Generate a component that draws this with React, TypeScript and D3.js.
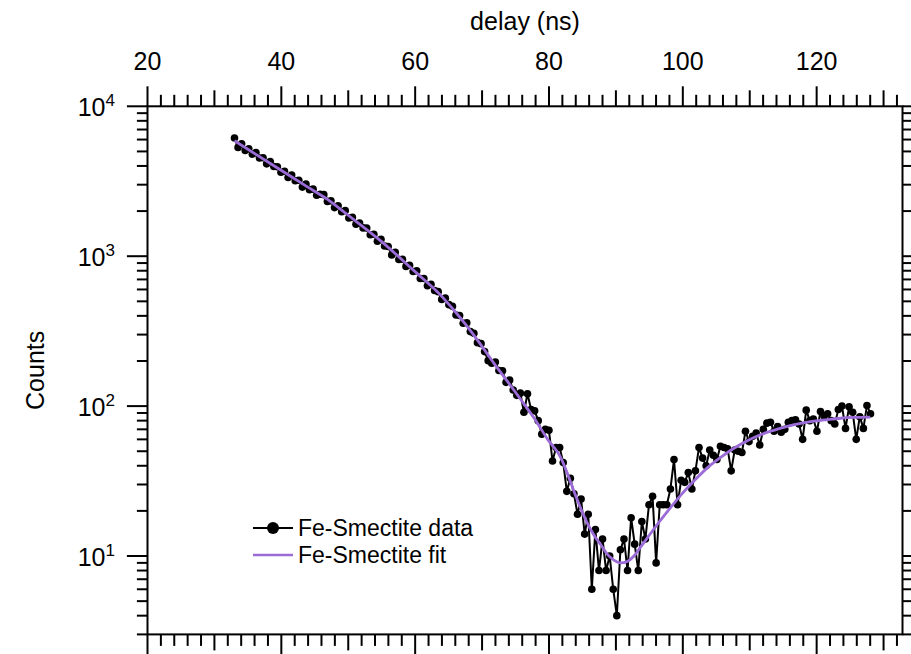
import React from 'react';
import * as d3 from 'd3';

// Time axis of the histogram: evenly spaced bins
const DELAY_START = 33.0;
const DELAY_STEP = 0.534;

// Measured counts per bin
const dataCounts = [
  6140, 5320, 5630, 5070, 5210, 4790, 4920, 4520, 4540, 4130,
  4280, 3970, 3950, 3630, 3690, 3350, 3480, 3190, 3210, 2890,
  3030, 2780, 2800, 2550, 2590, 2575, 2320, 2340, 2110, 2170,
  1980, 2015, 1800, 1815, 1635, 1665, 1545, 1540, 1390, 1400,
  1260, 1295, 1170, 1160, 1020, 1060, 950, 955, 855, 870,
  790, 800, 710, 710, 635, 650, 590, 580, 515, 525,
  475, 463, 405, 402, 357, 360, 314, 306, 265, 261,
  231, 201, 193, 197, 173, 172, 144, 149, 128, 118,
  122, 91, 121, 95, 93, 80, 65, 70, 69, 43,
  53, 53, 42, 27, 33, 26, 19, 24, 14, 19,
  6, 15, 8, 13, 8, 10, 6, 4, 11, 13,
  8, 18, 12, 8, 17, 13, 22, 25, 9, 22,
  22, 22, 28, 44, 22, 32, 31, 36, 28, 37,
  53, 45, 40, 51, 47, 44, 54, 53, 52, 37,
  51, 50, 49, 68, 58, 63, 66, 55, 70, 77,
  78, 68, 73, 67, 70, 78, 80, 81, 76, 60,
  94, 80, 82, 68, 92, 86, 89, 80, 76, 95,
  100, 71, 99, 91, 60, 85, 71, 101, 89,
];

// Fitted curve knots
const fitDelay = [
  33.0, 35.9, 39.9, 43.9, 46.9, 49.9, 54.9, 59.9, 63.8, 65.8, 67.8, 69.8,
  71.7, 73.7, 75.7, 77.8, 79.8, 81.8, 82.8, 83.8, 84.8, 85.8, 86.8, 87.8,
  88.7, 89.7, 90.7, 91.7, 92.7, 93.7, 94.7, 95.7, 97.7, 99.7, 101.7, 103.7,
  105.7, 107.7, 109.7, 111.7, 113.7, 115.6, 117.6, 119.6, 121.6, 123.6, 125.6, 128.0,
];
const fitCounts = [
  5890, 4870, 3760, 2900, 2395, 1890, 1260, 795, 550, 436, 339, 257,
  195, 148, 112, 83, 60, 45, 35, 26.5, 20.5, 16.3, 13.6, 11.8,
  10.3, 9.4, 9.0, 9.2, 10.0, 11.5, 13.2, 15.2, 19.8, 25.5, 31.8, 38.9,
  45.7, 52.5, 58.9, 64.6, 69.2, 73.3, 76.7, 79.4, 81.3, 83.0, 84.0, 84.5,
];

const xTickLabels = [20, 40, 60, 80, 100, 120];
const yDecadeExponents = [1, 2, 3, 4];
const legendLabels = ['Fe-Smectite data', 'Fe-Smectite fit'];
const xTitle = 'delay (ns)';
const yTitle = 'Counts';

const W = 911;
const H = 654;
const LEFT = 147.5;
const RIGHT = 902.5;
const TOP = 106.3;
const BOTTOM = 634.4;
const FONT = '"Liberation Sans", Arial, Helvetica, sans-serif';
const FIT_COLOR = '#9b6bd8';

export default function App() {
  const x = d3.scaleLinear().domain([20, 132.8]).range([LEFT, RIGHT - 0.2]);
  const y = d3.scaleLog().domain([3, 10000]).range([BOTTOM, TOP]);

  const points = dataCounts.map((c, i) => ({ t: DELAY_START + i * DELAY_STEP, c }));
  const fitPoints = fitDelay.map((t, i) => ({ t, c: fitCounts[i] }));

  const dataLine = d3
    .line<{ t: number; c: number }>()
    .x((d) => x(d.t))
    .y((d) => y(d.c));
  const fitLine = d3
    .line<{ t: number; c: number }>()
    .x((d) => x(d.t))
    .y((d) => y(d.c))
    .curve(d3.curveMonotoneX);

  const xTicks = d3.range(20, 133, 2);
  const xTickLen = (v: number) => (v % 20 === 0 ? 20 : v % 10 === 0 ? 16 : 11.5);

  const yMinor: number[] = [];
  [0, 1, 2, 3].forEach((k) => {
    for (let m = 2; m <= 9; m++) {
      const v = m * Math.pow(10, k);
      if (v >= 3 && v < 10000) yMinor.push(v);
    }
  });
  const yMajor = yDecadeExponents.map((e) => Math.pow(10, e));

  const stroke = { stroke: '#000', strokeWidth: 2 };

  return (
    <svg
      width={W}
      height={H}
      style={{ position: 'absolute', left: 0, top: 0, background: '#fff' }}
      fontFamily={FONT}
    >
      <rect x={0} y={0} width={W} height={H} fill="#fff" />

      {/* x ticks, top and bottom */}
      {xTicks.map((v) => (
        <g key={`xt${v}`}>
          <line x1={x(v)} x2={x(v)} y1={TOP} y2={TOP - xTickLen(v)} {...stroke} />
          <line x1={x(v)} x2={x(v)} y1={BOTTOM} y2={BOTTOM + xTickLen(v)} {...stroke} />
        </g>
      ))}
      {xTickLabels.map((v) => (
        <text key={`xl${v}`} x={x(v)} y={70} fontSize={25} textAnchor="middle" fill="#000">
          {v}
        </text>
      ))}
      <text x={(LEFT + RIGHT) / 2} y={30} fontSize={25} textAnchor="middle" fill="#000">
        {xTitle}
      </text>

      {/* y ticks, left and right */}
      {yMinor.map((v) => (
        <g key={`ym${v}`}>
          <line x1={LEFT} x2={LEFT - 10.6} y1={y(v)} y2={y(v)} {...stroke} />
          <line x1={RIGHT} x2={RIGHT + 10.6} y1={y(v)} y2={y(v)} {...stroke} />
        </g>
      ))}
      {yMajor.map((v) => (
        <g key={`yM${v}`}>
          <line x1={LEFT} x2={LEFT - 20.6} y1={y(v)} y2={y(v)} {...stroke} />
          <line x1={RIGHT} x2={RIGHT + 20.6} y1={y(v)} y2={y(v)} {...stroke} />
        </g>
      ))}
      {yDecadeExponents.map((e) => (
        <text key={`yl${e}`} x={115} y={y(Math.pow(10, e)) + 10} fontSize={25} textAnchor="end" fill="#000">
          10
          <tspan fontSize={17} dy={-10}>
            {e}
          </tspan>
        </text>
      ))}
      <text
        transform={`translate(44,${(TOP + BOTTOM) / 2}) rotate(-90)`}
        fontSize={25}
        textAnchor="middle"
        fill="#000"
      >
        {yTitle}
      </text>

      {/* frame */}
      <rect x={LEFT} y={TOP} width={RIGHT - LEFT} height={BOTTOM - TOP} fill="none" {...stroke} />

      {/* measured data */}
      <path d={dataLine(points) ?? ''} fill="none" stroke="#000" strokeWidth={2} />
      {points.map((p, i) => (
        <circle key={`p${i}`} cx={x(p.t)} cy={y(p.c)} r={3.8} fill="#000" />
      ))}

      {/* fit */}
      <path d={fitLine(fitPoints) ?? ''} fill="none" stroke={FIT_COLOR} strokeWidth={2.8} />

      {/* legend */}
      <line x1={253} x2={293} y1={528} y2={528} stroke="#000" strokeWidth={2} />
      <circle cx={273} cy={528} r={6} fill="#000" />
      <text x={298} y={536} fontSize={23} fill="#000">
        {legendLabels[0]}
      </text>
      <line x1={253} x2={293} y1={555} y2={555} stroke={FIT_COLOR} strokeWidth={2.6} />
      <text x={298} y={563} fontSize={23} fill="#000">
        {legendLabels[1]}
      </text>
    </svg>
  );
}
